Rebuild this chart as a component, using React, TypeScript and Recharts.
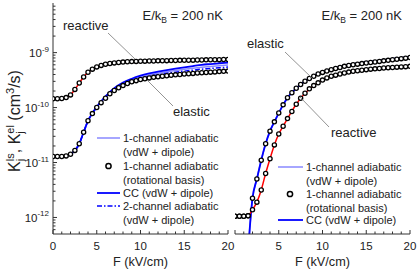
import React from 'react';
import { LineChart, Line, XAxis, YAxis } from 'recharts';

const FONT = '"Liberation Sans", Arial, Helvetica, sans-serif';
const AX = '#333';
const BLUE = '#0000ff';
const LIGHT_BLUE = '#8888ff';
const RED = '#ff0000';

// x grid of the rotational-basis (circle) results
const rotF = [0,0.5,1,1.5,2,2.5,3,3.5,4,4.5,5,5.5,6,6.5,7,7.5,8,8.5,9,9.5,10,10.5,11,11.5,12,12.5,13,13.5,14,14.5,15,15.5,16,16.5,17,17.5,18,18.5,19,19.5,20];
// x grid of the line results
const lineF = [1.5,2,2.5,3,3.5,4,4.5,5,5.5,6,7,8,9,10,11,12,13,14,15,16,17,18,19,20];

// ---- left panel ----
const leftReactiveRot = [1.45e-10,1.45e-10,1.46e-10,1.52e-10,1.7e-10,2.14e-10,2.8e-10,3.6e-10,4.4e-10,5.0e-10,5.5e-10,5.85e-10,6.15e-10,6.35e-10,6.5e-10,6.62e-10,6.72e-10,6.8e-10,6.87e-10,6.92e-10,6.97e-10,7.0e-10,7.03e-10,7.06e-10,7.09e-10,7.12e-10,7.15e-10,7.18e-10,7.2e-10,7.23e-10,7.25e-10,7.28e-10,7.3e-10,7.33e-10,7.35e-10,7.38e-10,7.4e-10,7.43e-10,7.45e-10,7.48e-10,7.5e-10];
const leftElasticRot = [1.29e-11,1.29e-11,1.29e-11,1.32e-11,1.41e-11,1.66e-11,2.19e-11,3.55e-11,5.75e-11,7.76e-11,1.0e-10,1.23e-10,1.48e-10,1.78e-10,2.04e-10,2.29e-10,2.51e-10,2.75e-10,2.95e-10,3.09e-10,3.24e-10,3.35e-10,3.47e-10,3.55e-10,3.63e-10,3.72e-10,3.8e-10,3.87e-10,3.94e-10,4.01e-10,4.07e-10,4.13e-10,4.19e-10,4.25e-10,4.31e-10,4.36e-10,4.41e-10,4.46e-10,4.51e-10,4.56e-10,4.61e-10];
const leftCC = [1.32e-11,1.41e-11,1.66e-11,2.19e-11,3.55e-11,5.75e-11,7.9e-11,1.03e-10,1.3e-10,1.6e-10,2.25e-10,2.85e-10,3.35e-10,3.8e-10,4.2e-10,4.5e-10,4.8e-10,5.1e-10,5.4e-10,5.7e-10,6.0e-10,6.2e-10,6.4e-10,6.6e-10];
const left1ch = [1.32e-11,1.41e-11,1.66e-11,2.19e-11,3.55e-11,5.75e-11,7.85e-11,1.02e-10,1.28e-10,1.56e-10,2.18e-10,2.72e-10,3.18e-10,3.58e-10,3.92e-10,4.22e-10,4.5e-10,4.75e-10,5.0e-10,5.22e-10,5.42e-10,5.6e-10,5.78e-10,5.95e-10];
const left2ch = [1.32e-11,1.41e-11,1.66e-11,2.19e-11,3.55e-11,5.75e-11,7.8e-11,1.01e-10,1.27e-10,1.55e-10,2.15e-10,2.65e-10,3.05e-10,3.4e-10,3.7e-10,3.95e-10,4.2e-10,4.4e-10,4.6e-10,4.8e-10,5.0e-10,5.15e-10,5.3e-10,5.45e-10];
const leftReactiveCC = [1.52e-10,1.7e-10,2.14e-10,2.8e-10,3.6e-10,4.4e-10,5.0e-10,5.5e-10,5.85e-10,6.15e-10,6.5e-10,6.72e-10,6.87e-10,6.97e-10,7.03e-10,7.09e-10,7.15e-10,7.2e-10,7.25e-10,7.3e-10,7.35e-10,7.4e-10,7.45e-10,7.5e-10];

// ---- right panel ----
const rightElasticRot = [1.05e-12,1.05e-12,1.05e-12,1.07e-12,2.24e-12,5.0e-12,1.1e-11,2.19e-11,3.72e-11,5.5e-11,7.94e-11,1.12e-10,1.51e-10,1.86e-10,2.24e-10,2.63e-10,3.02e-10,3.39e-10,3.72e-10,4.07e-10,4.37e-10,4.62e-10,4.9e-10,5.13e-10,5.37e-10,5.62e-10,5.82e-10,6.03e-10,6.17e-10,6.31e-10,6.46e-10,6.61e-10,6.76e-10,6.92e-10,7.08e-10,7.24e-10,7.41e-10,7.59e-10,7.76e-10,7.94e-10,8.13e-10];
const rightReactiveRot = [1.05e-12,1.05e-12,1.05e-12,1.07e-12,1.38e-12,1.9e-12,3.16e-12,6.3e-12,1.17e-11,2.09e-11,3.3e-11,4.57e-11,6.3e-11,8.5e-11,1.15e-10,1.48e-10,1.82e-10,2.19e-10,2.51e-10,2.82e-10,3.16e-10,3.47e-10,3.72e-10,3.89e-10,4.07e-10,4.27e-10,4.42e-10,4.57e-10,4.68e-10,4.79e-10,4.9e-10,5.0e-10,5.07e-10,5.15e-10,5.25e-10,5.31e-10,5.37e-10,5.44e-10,5.5e-10,5.56e-10,5.62e-10];
const rightCC = [2.5e-13,2.24e-12,5.0e-12,1.1e-11,2.19e-11,3.72e-11,5.5e-11,7.94e-11,1.12e-10,1.51e-10,2.24e-10,3.05e-10,3.78e-10,4.45e-10,5.0e-10,5.5e-10,5.97e-10,6.35e-10,6.68e-10,7.0e-10,7.33e-10,7.65e-10,8.0e-10,8.35e-10];
const right1ch = [2.5e-13,2.24e-12,5.0e-12,1.1e-11,2.19e-11,3.72e-11,5.5e-11,7.94e-11,1.12e-10,1.51e-10,2.24e-10,3.03e-10,3.75e-10,4.4e-10,4.95e-10,5.45e-10,5.9e-10,6.28e-10,6.6e-10,6.92e-10,7.25e-10,7.56e-10,7.9e-10,8.25e-10];
const rightReactiveCC = [1.05e-12,1.38e-12,1.9e-12,3.16e-12,6.3e-12,1.17e-11,2.09e-11,3.3e-11,4.57e-11,6.3e-11,1.15e-10,1.82e-10,2.51e-10,3.16e-10,3.72e-10,4.07e-10,4.42e-10,4.68e-10,4.9e-10,5.07e-10,5.25e-10,5.37e-10,5.5e-10,5.62e-10];

// ---- axes ----
const Y_DOMAIN: [number, number] = [5e-13, 8e-9];
const yTicks = [6e-13,7e-13,8e-13,9e-13,1e-12,2e-12,3e-12,4e-12,5e-12,6e-12,7e-12,8e-12,9e-12,1e-11,2e-11,3e-11,4e-11,5e-11,6e-11,7e-11,8e-11,9e-11,1e-10,2e-10,3e-10,4e-10,5e-10,6e-10,7e-10,8e-10,9e-10,1e-9,2e-9,3e-9,4e-9,5e-9,6e-9,7e-9];
const xTicks = [0,1,2,3,4,5,6,7,8,9,10,11,12,13,14,15,16,17,18,19,20];
const xLabelsLeft = [0,5,10,15,20];
const xLabelsRight = [5,10,15,20];

const mk = (xs: number[], ys: number[]) => xs.map((F, i) => ({ F, v: ys[i] }));

const isMajorY = (v: number) => Math.abs(Math.log10(v) - Math.round(Math.log10(v))) < 1e-6;

function YTickL(props: any) {
  const { x, y, payload, showLabel } = props;
  const v = payload.value;
  const major = isMajorY(v);
  const exp = Math.round(Math.log10(v));
  return (
    <g>
      <line x1={x} y1={y} x2={x + (major ? 4 : 2.5)} y2={y} stroke={AX} strokeWidth={1} />
      {major && showLabel ? (
        <text x={x - 4} y={y + 4.5} textAnchor="end" fontSize={11.5} fontFamily={FONT} fill="#222">
          10<tspan dy={-5.5} fontSize={8}>{'-' + Math.abs(exp)}</tspan>
        </text>
      ) : null}
    </g>
  );
}
function YTickR(props: any) {
  const { x, y, payload } = props;
  const major = isMajorY(payload.value);
  return <line x1={x} y1={y} x2={x - (major ? 4 : 2.5)} y2={y} stroke={AX} strokeWidth={1} />;
}
function XTickB(props: any) {
  const { x, y, payload, labels } = props;
  const v = payload.value;
  const major = v % 5 === 0;
  return (
    <g>
      <line x1={x} y1={y} x2={x} y2={y - (major ? 4 : 2.5)} stroke={AX} strokeWidth={1} />
      {labels.includes(v) ? (
        <text x={x} y={y + 16} textAnchor="middle" fontSize={11.5} fontFamily={FONT} fill="#222">{v}</text>
      ) : null}
    </g>
  );
}
function XTickT(props: any) {
  const { x, y, payload } = props;
  const major = payload.value % 5 === 0;
  return <line x1={x} y1={y} x2={x} y2={y + (major ? 4 : 2.5)} stroke={AX} strokeWidth={1} />;
}

type Series = { name: string; data: { F: number; v: number }[]; stroke: string; width?: number; dash?: string; dots?: boolean };

function Panel(props: { width: number; margin: any; yAxisWidth: number; xLabels: number[]; yLabels: boolean; series: Series[] }) {
  const { width, margin, yAxisWidth, xLabels, yLabels, series } = props;
  return (
    <LineChart width={width} height={273} margin={margin}>
      <XAxis xAxisId="b" orientation="bottom" dataKey="F" type="number" domain={[0, 20]} allowDataOverflow
        ticks={xTicks} interval={0} tickSize={0} tickMargin={0} tickLine={false} axisLine={{ stroke: AX }} height={39}
        tick={(p: any) => <XTickB {...p} labels={xLabels} />} />
      <XAxis xAxisId="t" orientation="top" dataKey="F" type="number" domain={[0, 20]} allowDataOverflow
        ticks={xTicks} interval={0} tickSize={0} tickMargin={0} tickLine={false} axisLine={{ stroke: AX }} height={0}
        tick={(p: any) => <XTickT {...p} />} />
      <YAxis yAxisId="l" orientation="left" type="number" scale="log" domain={Y_DOMAIN} allowDataOverflow
        ticks={yTicks} interval={0} tickSize={0} tickMargin={0} tickLine={false} axisLine={{ stroke: AX }} width={yAxisWidth}
        tick={(p: any) => <YTickL {...p} showLabel={yLabels} />} />
      <YAxis yAxisId="r" orientation="right" type="number" scale="log" domain={Y_DOMAIN} allowDataOverflow
        ticks={yTicks} interval={0} tickSize={0} tickMargin={0} tickLine={false} axisLine={{ stroke: AX }} width={0}
        tick={(p: any) => <YTickR {...p} />} />
      {series.map((s) => (
        <Line key={s.name} name={s.name} xAxisId="b" yAxisId="l" data={s.data} dataKey="v" type="monotone"
          stroke={s.dots ? 'none' : s.stroke} strokeWidth={s.width ?? 1.5} strokeDasharray={s.dash}
          dot={s.dots ? { r: 2.1, stroke: '#000', strokeWidth: 1.3, fill: '#fff' } : false}
          activeDot={false} isAnimationActive={false} connectNulls />
      ))}
    </LineChart>
  );
}

const leftSeries: Series[] = [
  { name: 'l1ch', data: mk(lineF, left1ch), stroke: LIGHT_BLUE, width: 1.5 },
  { name: 'l2ch', data: mk(lineF, left2ch), stroke: BLUE, width: 1.5, dash: '5 2 1.5 2' },
  { name: 'lcc', data: mk(lineF, leftCC), stroke: BLUE, width: 1.8 },
  { name: 'lrcc', data: mk(lineF, leftReactiveCC), stroke: RED, width: 1.5 },
  { name: 'lel', data: mk(rotF, leftElasticRot), stroke: '#000', dots: true },
  { name: 'lre', data: mk(rotF, leftReactiveRot), stroke: '#000', dots: true },
];
const rightSeries: Series[] = [
  { name: 'r1ch', data: mk(lineF, right1ch), stroke: LIGHT_BLUE, width: 1.5 },
  { name: 'rcc', data: mk(lineF, rightCC), stroke: BLUE, width: 1.8 },
  { name: 'rrcc', data: mk(lineF, rightReactiveCC), stroke: RED, width: 1.5 },
  { name: 'rel', data: mk(rotF, rightElasticRot), stroke: '#000', dots: true },
  { name: 'rre', data: mk(rotF, rightReactiveRot), stroke: '#000', dots: true },
];

const T = { fontFamily: FONT, fill: '#222' } as const;
const NB = '\u00A0';

function EkLabel({ x }: { x: number }) {
  return (
    <text x={x} y={19.5} textAnchor="end" fontSize={13} {...T}>
      E/k<tspan dy={3} fontSize={8.5}>B</tspan><tspan dy={-3}>{NB + '= 200 nK'}</tspan>
    </text>
  );
}

function Overlay() {
  const lt = 11;
  return (
    <svg width={419} height={273} style={{ position: 'absolute', left: 0, top: 0, pointerEvents: 'none' }}>
      {/* y axis title */}
      <text transform="translate(19.5,121) rotate(-90)" textAnchor="middle" fontSize={16} {...T}>
        K<tspan dy={-6} fontSize={11}>ls</tspan><tspan dx={-7.9} dy={10} fontSize={11}>j</tspan>
        <tspan dx={5.5} dy={-4}>{',' + NB + 'K'}</tspan><tspan dy={-6} fontSize={11}>el</tspan><tspan dx={-8.6} dy={10} fontSize={11}>j</tspan>
        <tspan dx={6.2} dy={-4}>{NB + '(cm'}</tspan><tspan dy={-6} fontSize={11}>3</tspan><tspan dy={6}>/s)</tspan>
      </text>
      {/* x axis titles */}
      <text x={140.5} y={266} textAnchor="middle" fontSize={12.7} {...T}>F (kV/cm)</text>
      <text x={322.5} y={266} textAnchor="middle" fontSize={12.7} {...T}>F (kV/cm)</text>
      <EkLabel x={223} />
      <EkLabel x={402} />
      {/* annotations left */}
      <text x={63} y={30} fontSize={13} {...T}>reactive</text>
      <line x1={108} y1={33} x2={135} y2={59} stroke="#777" strokeWidth={0.8} />
      <text x={173} y={116} fontSize={13} {...T}>elastic</text>
      <line x1={147} y1={80} x2={173} y2={106} stroke="#777" strokeWidth={0.8} />
      {/* annotations right */}
      <text x={247} y={48} fontSize={13} {...T}>elastic</text>
      <line x1={285} y1={52} x2={313} y2={79} stroke="#777" strokeWidth={0.8} />
      <text x={331} y={137} fontSize={13} {...T}>reactive</text>
      <line x1={329} y1={127} x2={300} y2={97} stroke="#777" strokeWidth={0.8} />
      {/* legend left */}
      <line x1={97} y1={138} x2={120} y2={138} stroke={LIGHT_BLUE} strokeWidth={1.5} />
      <text x={123} y={142} fontSize={lt} {...T}>1-channel adiabatic</text>
      <text x={123} y={156} fontSize={lt} {...T}>(vdW + dipole)</text>
      <circle cx={108.5} cy={166} r={2.6} stroke="#000" strokeWidth={1.5} fill="#fff" />
      <text x={123} y={170} fontSize={lt} {...T}>1-channel adiabatic</text>
      <text x={123} y={184} fontSize={lt} {...T}>(rotational basis)</text>
      <line x1={97} y1={193} x2={120} y2={193} stroke={BLUE} strokeWidth={1.8} />
      <text x={123} y={197} fontSize={lt} {...T}>CC (vdW + dipole)</text>
      <line x1={97} y1={206} x2={120} y2={206} stroke={BLUE} strokeWidth={1.5} strokeDasharray="5 2 1.5 2" />
      <text x={123} y={210} fontSize={lt} {...T}>2-channel adiabatic</text>
      <text x={123} y={224} fontSize={lt} {...T}>(vdW + dipole)</text>
      {/* legend right */}
      <line x1={278} y1={167} x2={303} y2={167} stroke={LIGHT_BLUE} strokeWidth={1.5} />
      <text x={306} y={171} fontSize={lt} {...T}>1-channel adiabatic</text>
      <text x={306} y={185} fontSize={lt} {...T}>(vdW + dipole)</text>
      <circle cx={290} cy={194} r={2.6} stroke="#000" strokeWidth={1.5} fill="#fff" />
      <text x={306} y={198} fontSize={lt} {...T}>1-channel adiabatic</text>
      <text x={306} y={212} fontSize={lt} {...T}>(rotational basis)</text>
      <line x1={278} y1={220} x2={303} y2={220} stroke={BLUE} strokeWidth={1.8} />
      <text x={306} y={224} fontSize={lt} {...T}>CC (vdW + dipole)</text>
    </svg>
  );
}

export default function App() {
  return (
    <div style={{ position: 'absolute', left: 0, top: 0, width: 419, height: 273, background: '#fff', overflow: 'hidden' }}>
      <div style={{ position: 'absolute', left: 0, top: 0 }}>
        <Panel width={240} margin={{ top: 3, right: 12, bottom: 0, left: 0 }} yAxisWidth={53}
          xLabels={xLabelsLeft} yLabels={true} series={leftSeries} />
      </div>
      <div style={{ position: 'absolute', left: 0, top: 0 }}>
        <Panel width={419} margin={{ top: 3, right: 9, bottom: 0, left: 235 }} yAxisWidth={0}
          xLabels={xLabelsRight} yLabels={false} series={rightSeries} />
      </div>
      <Overlay />
    </div>
  );
}
